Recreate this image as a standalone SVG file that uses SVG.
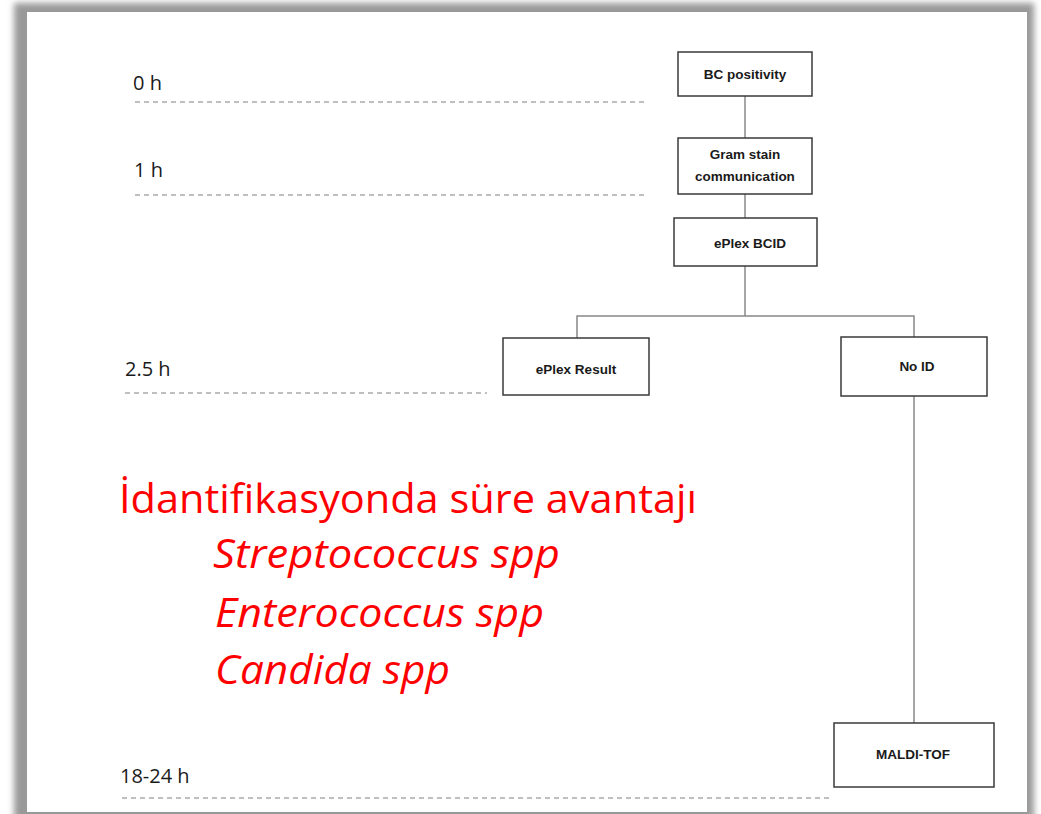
<svg xmlns="http://www.w3.org/2000/svg" width="1041" height="814" viewBox="0 0 1041 814">
<defs>
<filter id="blur" x="-5%" y="-5%" width="110%" height="110%"><feGaussianBlur stdDeviation="3"/></filter>
</defs>
<style>
.box{fill:#fff;stroke:#3a3a3a;stroke-width:1.5}
.lbl{font-family:"Liberation Sans",Arial,sans-serif;font-weight:bold;font-size:13.5px;fill:#1a1a1a;text-anchor:middle}
.time{font-family:"Open Sans","Liberation Sans",sans-serif;font-size:20px;fill:#1a1a1a}
.dash{stroke:#aaa;stroke-width:1.5;stroke-dasharray:5 4;fill:none}
.conn{stroke:#888;stroke-width:1.5;fill:none}
.red{font-family:"Open Sans","Liberation Sans",sans-serif;fill:#ff0000;font-size:40px}
.it{font-style:italic}
</style>
<rect x="0" y="0" width="1041" height="814" fill="#fff"/>
<rect x="14" y="3" width="1020" height="820" fill="#999" filter="url(#blur)"/>
<rect x="27" y="12" width="1000" height="800" fill="#fff"/>

<g id="timeline">
<text class="time" x="133" y="90">0 h</text>
<line class="dash" x1="135" y1="102" x2="648" y2="102"/>
<text class="time" x="134" y="177">1 h</text>
<line class="dash" x1="135" y1="195" x2="648" y2="195"/>
<text class="time" x="125" y="376">2.5 h</text>
<line class="dash" x1="125" y1="393" x2="487" y2="393"/>
<text class="time" x="120" y="783">18-24 h</text>
<line class="dash" x1="122" y1="798" x2="830" y2="798"/>
</g>

<g id="connectors">
<line class="conn" x1="745" y1="96" x2="745" y2="138"/>
<line class="conn" x1="745" y1="194" x2="745" y2="218"/>
<line class="conn" x1="745" y1="266" x2="745" y2="316"/>
<polyline class="conn" points="577,338 577,316 914,316 914,337"/>
<line class="conn" x1="914" y1="396" x2="914" y2="723"/>
</g>

<g id="bc-positivity">
<rect class="box" x="678" y="52" width="134" height="44"/>
<text class="lbl" x="745" y="79">BC positivity</text>
</g>
<g id="gram-stain">
<rect class="box" x="678" y="138" width="134" height="56"/>
<text class="lbl" x="745" y="159">Gram stain</text>
<text class="lbl" x="745" y="181">communication</text>
</g>
<g id="eplex-bcid">
<rect class="box" x="674" y="218" width="143" height="48"/>
<text class="lbl" x="750" y="248">ePlex BCID</text>
</g>
<g id="eplex-result">
<rect class="box" x="503" y="338" width="146" height="57"/>
<text class="lbl" x="576" y="374">ePlex Result</text>
</g>
<g id="no-id">
<rect class="box" x="841" y="337" width="146" height="59"/>
<text class="lbl" x="917" y="371">No ID</text>
</g>
<g id="maldi-tof">
<rect class="box" x="834" y="723" width="160" height="64"/>
<text class="lbl" x="913" y="759">MALDI-TOF</text>
</g>

<g id="note">
<text class="red" x="119" y="513" textLength="578" lengthAdjust="spacingAndGlyphs">İdantifikasyonda süre avantajı</text>
<text class="red it" x="213" y="568" textLength="347" lengthAdjust="spacingAndGlyphs">Streptococcus spp</text>
<text class="red it" x="215" y="627" textLength="329" lengthAdjust="spacingAndGlyphs">Enterococcus spp</text>
<text class="red it" x="215" y="684" textLength="235" lengthAdjust="spacingAndGlyphs">Candida spp</text>
</g>
</svg>
